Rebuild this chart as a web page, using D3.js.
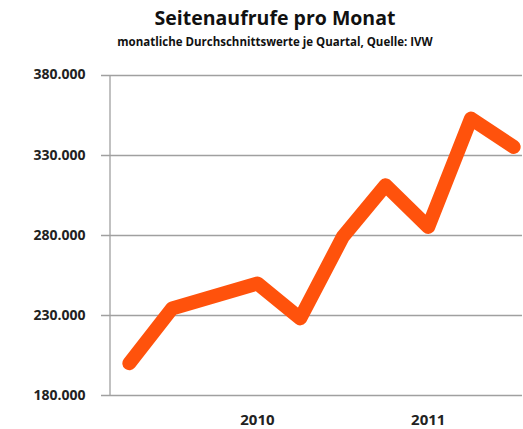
<!DOCTYPE html>
<meta charset="utf-8">
<style>
body { margin: 0; background: #fff; }
.title { font: bold 19.5px "Open Sans", sans-serif; fill: #111; text-anchor: middle; }
.subtitle { font: bold 11.5px "Open Sans", sans-serif; fill: #111; text-anchor: middle; }
.axis text { font: bold 14px "Open Sans", sans-serif; fill: #222; }
.axis--x text { font-size: 15px; }
.grid line { stroke: #a0a0a0; stroke-width: 1.3; }
</style>
<svg width="523" height="429"></svg>
<script src="https://cdn.jsdelivr.net/npm/d3@7"></script>
<script>

var quarters = ["q0", "q1", "q2", "q3", "q4", "q5", "q6", "q7", "q8", "q9"];
var pageViews = [199800, 234000, 241800, 249600, 227800, 278700, 310900, 284900, 352500, 334800];
var xTickLabels = ["", "", "", "2010", "", "", "", "2011", "", ""];
var yTicks = [180000, 230000, 280000, 330000, 380000];

var svg = d3.select("svg");

var x = d3.scaleBand().domain(quarters).range([108, 535]),
    y = d3.scaleLinear().domain([180000, 380000]).range([395, 74.5]);

var fmt = function(d) { return d3.format(",")(d).replace(/,/g, "."); };

svg.append("text")
    .attr("class", "title")
    .attr("x", 275)
    .attr("y", 25)
    .text("Seitenaufrufe pro Monat");

svg.append("text")
    .attr("class", "subtitle")
    .attr("x", 275)
    .attr("y", 46)
    .text("monatliche Durchschnittswerte je Quartal, Quelle: IVW");

// horizontal grid
svg.append("g")
    .attr("class", "grid")
  .selectAll("line")
  .data(yTicks)
  .enter().append("line")
    .attr("x1", 101)
    .attr("x2", 522)
    .attr("y1", function(d) { return Math.round(y(d)) + 0.5; })
    .attr("y2", function(d) { return Math.round(y(d)) + 0.5; });

// y axis
var yAxis = svg.append("g")
    .attr("class", "axis axis--y")
    .attr("transform", "translate(109.5,0)")
    .call(d3.axisLeft(y).tickValues(yTicks).tickFormat(fmt).tickSize(0).tickPadding(24));
yAxis.select(".domain").attr("stroke", "#a0a0a0").attr("stroke-width", 1.3);

// x axis labels
var xAxis = svg.append("g")
    .attr("class", "axis axis--x")
    .attr("transform", "translate(0,395)")
    .call(d3.axisBottom(x).tickSize(0).tickPadding(19).tickFormat(function(d, i) { return xTickLabels[i]; }));
xAxis.select(".domain").remove();

var line = d3.line()
    .x(function(d, i) { return x(quarters[i]) + x.bandwidth() / 2; })
    .y(function(d) { return y(d); });

svg.append("path")
    .datum(pageViews)
    .attr("fill", "none")
    .attr("stroke", "#ff520c")
    .attr("stroke-width", 14)
    .attr("stroke-linejoin", "round")
    .attr("stroke-linecap", "round")
    .attr("d", line);

</script>
